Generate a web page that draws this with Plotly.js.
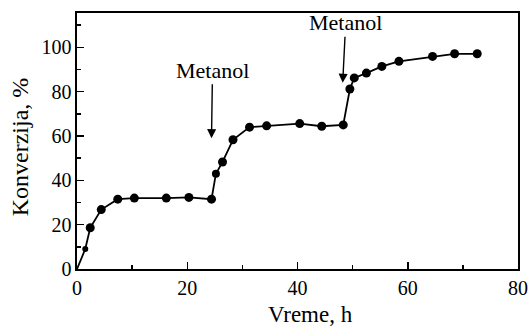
<!DOCTYPE html>
<html>
<head>
<meta charset="utf-8">
<script src="https://cdn.plot.ly/plotly-3.0.1.min.js"></script>
<style>html,body{margin:0;padding:0;background:#fff;}#chart{width:529px;height:329px;}</style>
</head>
<body>
<div id="chart"></div>
<script>
const timeH = [0, 1.5, 2.4, 4.4, 7.4, 10.4, 16.2, 20.3, 24.4, 25.2, 26.4, 28.3, 31.3, 34.4, 40.4, 44.4, 48.3, 49.5, 50.3, 52.5, 55.3, 58.4, 64.5, 68.5, 72.6];
const conversion = [0, 9, 18.6, 26.8, 31.5, 32, 32, 32.3, 31.5, 43, 48.3, 58.3, 64, 64.6, 65.6, 64.4, 65, 81.2, 86.2, 88.4, 91.4, 93.7, 95.9, 97.1, 97.1];
const markerSizes = [0, 6, 9, 9, 9, 9, 9, 9, 9, 8, 9, 9, 9, 9, 9, 9, 9, 9, 9, 9, 9, 9, 9, 9, 9];
const xTicks = [0, 20, 40, 60, 80];
const yTicks = [0, 20, 40, 60, 80, 100];
const arrowLabel = "Metanol";
const arrowX = [24.4, 48.2];
const arrowY = [59, 84];

const font = "Liberation Serif";

const trace = {
  x: timeH, y: conversion, type: 'scatter', mode: 'lines+markers',
  line: {color: '#000', width: 1.8},
  marker: {color: '#000', size: markerSizes, opacity: 1, line: {color: '#000', width: 0}},
  hoverinfo: 'none', showlegend: false
};

const axBase = {
  showline: true, linecolor: '#000', linewidth: 1.6, mirror: true,
  showgrid: false, zeroline: false,
  ticks: 'inside', ticklen: 7, tickwidth: 1.5, tickcolor: '#000',
  tickfont: {family: font, size: 20, color: '#000'},
  minor: {ticks: 'inside', ticklen: 4, tickwidth: 1.5, tickcolor: '#000', dtick: 10, showgrid: false},
  fixedrange: true
};

const layout = {
  width: 529, height: 329,
  margin: {l: 77, r: 11, t: 13, b: 60, pad: 0},
  paper_bgcolor: '#fff', plot_bgcolor: '#fff',
  font: {family: font, color: '#000'},
  xaxis: Object.assign({}, axBase, {range: [0, 80], tickvals: xTicks, ticktext: xTicks.map(String)}),
  yaxis: Object.assign({}, axBase, {range: [0, 115.5], tickvals: yTicks, ticktext: yTicks.map(String)}),
  annotations: [
    {x: arrowX[0], y: arrowY[0], xref: 'x', yref: 'y', text: arrowLabel, showarrow: true,
     ax: 1, ay: -68, arrowhead: 2, arrowsize: 1.3, arrowwidth: 1.4, arrowcolor: '#000',
     font: {family: font, size: 22, color: '#000'}},
    {x: arrowX[1], y: arrowY[1], xref: 'x', yref: 'y', text: arrowLabel, showarrow: true,
     ax: 3, ay: -60, arrowhead: 2, arrowsize: 1.3, arrowwidth: 1.4, arrowcolor: '#000',
     font: {family: font, size: 22, color: '#000'}},
    {x: 0.53, y: -0.176, xref: 'paper', yref: 'paper', text: 'Vreme, h', showarrow: false,
     xanchor: 'center', yanchor: 'middle', font: {family: font, size: 23, color: '#000'}},
    {x: -0.129, y: 0.476, xref: 'paper', yref: 'paper', text: 'Konverzija, %', showarrow: false,
     textangle: -90, xanchor: 'center', yanchor: 'middle', font: {family: font, size: 24, color: '#000'}}
  ]
};

Plotly.newPlot('chart', [trace], layout, {displayModeBar: false, staticPlot: true});
</script>
</body>
</html>
